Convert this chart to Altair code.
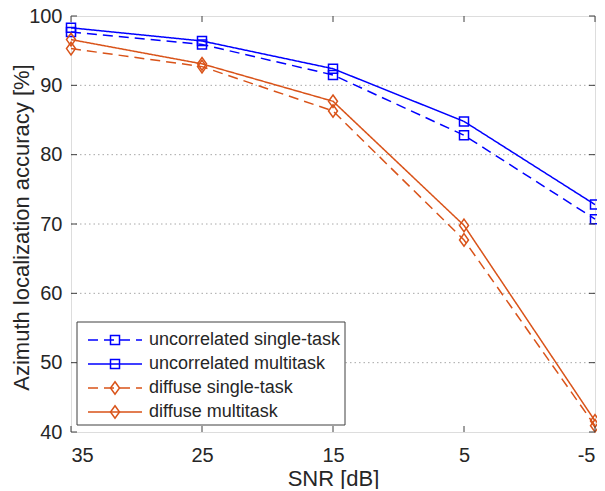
import altair as alt
import pandas as pd

# ---- data ----
snr = [35, 25, 15, 5, -5]
series_names = ["uncorrelated single-task", "uncorrelated multitask",
                "diffuse single-task", "diffuse multitask"]
unc_single = [97.7, 95.9, 91.5, 82.8, 70.7]
unc_multi = [98.3, 96.4, 92.4, 84.8, 72.8]
dif_single = [95.3, 92.7, 86.3, 67.7, 40.9]
dif_multi = [96.6, 93.1, 87.7, 69.8, 41.6]
x_ticks = [35, 25, 15, 5, -5]
y_ticks = [40, 50, 60, 70, 80, 90, 100]
grid_vals = [50, 60, 70, 80, 90]

colors = ["#0000FF", "#0000FF", "#D95319", "#D95319"]
dashes = [[10, 6], [1, 0], [10, 6], [1, 0]]
SQ = "M-1,-1H1V1H-1Z"
DI = "M0,-1.4L1,0L0,1.4L-1,0Z"
shapes = [SQ, SQ, DI, DI]

W, H = 524, 416
FONT = "Liberation Sans"
TXT = "#262626"
FRAME = "#404040"

rows = []
for name, vals in zip(series_names, [unc_single, unc_multi, dif_single, dif_multi]):
    for s, v in zip(snr, vals):
        rows.append({"series": name, "snr": s, "acc": v})
df = pd.DataFrame(rows)

leg_df = pd.DataFrame({"series": series_names, "row": list(range(len(series_names)))})

col_scale = alt.Scale(domain=series_names, range=colors)
dash_scale = alt.Scale(domain=series_names, range=dashes)
shape_scale = alt.Scale(domain=series_names, range=shapes)

x_enc = alt.X("snr:Q",
              scale=alt.Scale(domain=[-5, 35], reverse=True, nice=False, zero=False),
              axis=alt.Axis(values=x_ticks, labelExpr="datum.value + ''",
                            title="SNR [dB]", grid=False, ticks=False, tickSize=0,
                            domain=False, labelFontSize=20, titleFontSize=22,
                            labelBaseline="alphabetic", labelPadding=29,
                            titleFontWeight="normal", titleBaseline="alphabetic",
                            titleY=53, titleX=W / 2,
                            labelColor=TXT, titleColor=TXT, labelFont=FONT, titleFont=FONT))
y_enc = alt.Y("acc:Q",
              scale=alt.Scale(domain=[40, 100], nice=False, zero=False),
              axis=alt.Axis(values=y_ticks, title="Azimuth localization accuracy [%]",
                            grid=False, ticks=False, tickSize=0, domain=False,
                            labelFontSize=20, titleFontSize=22, labelPadding=9,
                            labelBaseline="middle",
                            titleFontWeight="normal", titleBaseline="alphabetic",
                            titleAngle=-90, titleX=-43, titleY=211, titleAlign="center",
                            labelColor=TXT, titleColor=TXT, labelFont=FONT, titleFont=FONT))

base = alt.Chart(df)

grid = alt.Chart(pd.DataFrame({"acc": grid_vals})).mark_rule(
    color="#a8a8a8", strokeWidth=1, strokeDash=[1.5, 3]
).encode(y=alt.Y("acc:Q"), x=alt.value(0), x2=alt.value(W))

lines = base.mark_line(strokeWidth=1.5).encode(
    x=x_enc, y=y_enc,
    color=alt.Color("series:N", scale=col_scale, legend=None),
    strokeDash=alt.StrokeDash("series:N", scale=dash_scale, legend=None),
    detail="series:N",
)
points = base.mark_point(filled=False, strokeWidth=1.5, size=81, opacity=1).encode(
    x="snr:Q", y="acc:Q",
    color=alt.Color("series:N", scale=col_scale, legend=None),
    shape=alt.Shape("series:N", scale=shape_scale, legend=None),
)

yt = alt.Chart(pd.DataFrame({"acc": y_ticks}))
xt = alt.Chart(pd.DataFrame({"snr": x_ticks}))
ytick_l = yt.mark_rule(color=FRAME).encode(y="acc:Q", x=alt.value(0), x2=alt.value(6))
ytick_r = yt.mark_rule(color=FRAME).encode(y="acc:Q", x=alt.value(W - 6), x2=alt.value(W))
xtick_b = xt.mark_rule(color=FRAME).encode(x="snr:Q", y=alt.value(H - 6), y2=alt.value(H))
xtick_t = xt.mark_rule(color=FRAME).encode(x="snr:Q", y=alt.value(0), y2=alt.value(6))

main = alt.layer(grid, lines, points, ytick_l, ytick_r, xtick_b, xtick_t)

# ---- legend (drawn in the lower-left of the plot) ----
leg_y = alt.Y("row:Q", scale=alt.Scale(domain=[0, 3], range=[324, 396]), axis=None)
lb = alt.Chart(leg_df)
box = alt.Chart(pd.DataFrame({"row": [0]})).mark_rect(
    fill="white", stroke=FRAME, strokeWidth=1
).encode(x=alt.value(6), x2=alt.value(274), y=alt.value(306), y2=alt.value(409))
leg_lines = lb.mark_rule(strokeWidth=1.5).encode(
    y=leg_y, x=alt.value(17), x2=alt.value(71),
    color=alt.Color("series:N", scale=col_scale, legend=None),
    strokeDash=alt.StrokeDash("series:N", scale=dash_scale, legend=None),
)
leg_pts = lb.mark_point(filled=False, strokeWidth=1.5, size=81, opacity=1).encode(
    y=leg_y, x=alt.value(44),
    color=alt.Color("series:N", scale=col_scale, legend=None),
    shape=alt.Shape("series:N", scale=shape_scale, legend=None),
)
leg_txt = lb.mark_text(align="left", baseline="middle", fontSize=18, font=FONT,
                       color=TXT).encode(y=leg_y, x=alt.value(78), text="series:N")
legend = alt.layer(box, leg_lines, leg_pts, leg_txt)

chart = alt.layer(main, legend).resolve_scale(y="independent").properties(
    width=W, height=H,
    autosize=alt.AutoSizeParams(type="none"),
    padding={"left": 63, "top": 8, "right": 2, "bottom": 57},
).configure_view(stroke=FRAME, strokeWidth=1).configure(background="white")

chart.save("out.html", embed_options={"renderer": "svg", "actions": False})
